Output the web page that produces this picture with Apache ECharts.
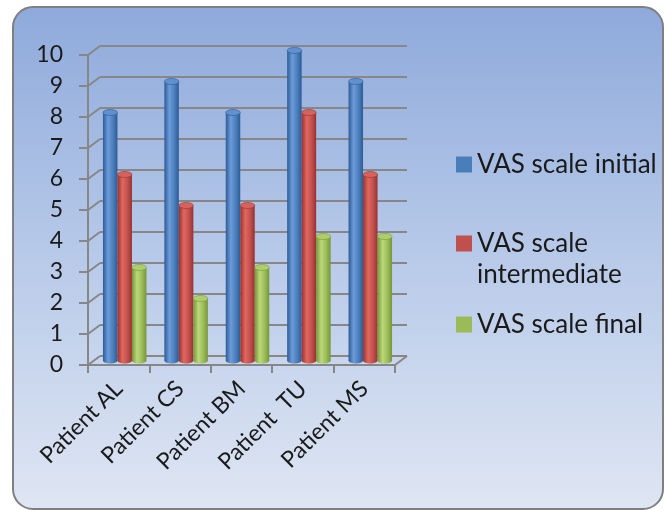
<!DOCTYPE html>
<html>
<head>
<meta charset="utf-8">
<script src="https://cdn.jsdelivr.net/npm/echarts@6/dist/echarts.min.js"></script>
<style>
  html, body { margin: 0; padding: 0; background: #ffffff; }
  #chart { width: 667px; height: 510px; }
</style>
</head>
<body>
<div id="chart"></div>
<script>
// Patient names along the category axis
const categories = ['Patient AL', 'Patient CS', 'Patient BM', 'Patient  TU', 'Patient MS'];

// VAS pain scores per patient
const vasInitial = [8, 9, 8, 10, 9];
const vasIntermediate = [6, 5, 5, 8, 6];
const vasFinal = [3, 2, 3, 4, 4];

// Value-axis ticks
const yTicks = [0, 1, 2, 3, 4, 5, 6, 7, 8, 9, 10];

const seriesNames = ['VAS scale initial', 'VAS scale intermediate', 'VAS scale final'];

const FONT = 'Lato';
const LINE = '#878787';
// depth offsets of the back wall and of the bar row relative to the front plane
const DEPTH_X = 12, DEPTH_Y = -9;
const MID_X = 6, MID_Y = -4.5;

const palettes = [
  { base: '#4a7ebb', dark: '#2d5b96', light: '#6c9bd9', cap: '#6090cf' },
  { base: '#c0504d', dark: '#963230', light: '#e2675f', cap: '#d5625e' },
  { base: '#9bbb59', dark: '#76953a', light: '#bcd979', cap: '#b0cd6c' }
];

function cylinder(idx) {
  const p = palettes[idx];
  return function (params, api) {
    const cat = api.value(0);
    const v = api.value(1);
    const base = api.coord([cat, 0]);
    const top = api.coord([cat, v]);
    const bw = 14.5;
    const x = base[0] + (idx - 1.5) * bw;
    const ry = 3;
    const body = new echarts.graphic.LinearGradient(0, 0, 1, 0, [
      { offset: 0, color: p.dark },
      { offset: 0.35, color: p.light },
      { offset: 0.7, color: p.base },
      { offset: 1, color: p.dark }
    ]);
    return {
      type: 'group',
      children: [
        { type: 'ellipse', shape: { cx: x + bw / 2, cy: base[1], rx: bw / 2, ry: ry }, style: { fill: body } },
        { type: 'rect', shape: { x: x, y: top[1], width: bw, height: base[1] - top[1] }, style: { fill: body } },
        { type: 'ellipse', shape: { cx: x + bw / 2, cy: top[1], rx: bw / 2, ry: ry },
          style: { fill: p.cap, stroke: p.dark, lineWidth: 0.6 } }
      ]
    };
  };
}

// short slanted edges joining the front axis to the back wall
function wallEdges(params, api) {
  const v = api.value(1);
  const cs = params.coordSys;
  const y = api.coord([0, v])[1];
  const children = [{
    type: 'line',
    shape: { x1: cs.x, y1: y, x2: cs.x + DEPTH_X, y2: y + DEPTH_Y },
    style: { stroke: LINE, lineWidth: 2 }
  }];
  if (v === 0) {
    children.push({
      type: 'line',
      shape: { x1: cs.x + cs.width, y1: y, x2: cs.x + cs.width + DEPTH_X, y2: y + DEPTH_Y },
      style: { stroke: LINE, lineWidth: 2 }
    });
  }
  return { type: 'group', children: children };
}

const frontLeft = 88, frontTop = 55, plotW = 307, plotH = 310;

const chart = echarts.init(document.getElementById('chart'), null, { renderer: 'canvas' });

const valueAxisBase = { type: 'value', min: 0, max: 10, interval: 1 };

const legendText = { fontFamily: FONT, fontSize: 26, color: '#1a1a1a', lineHeight: 31 };

const legendCommon = {
  orient: 'vertical',
  left: 456,
  itemWidth: 16,
  itemHeight: 16,
  itemGap: 0,
  padding: 0,
  icon: 'rect',
  selectedMode: false,
  textStyle: legendText
};

chart.setOption({
  backgroundColor: '#ffffff',
  animation: false,
  graphic: [{
    type: 'rect',
    z: -10,
    shape: { x: 13, y: 7, width: 650, height: 502, r: 20 },
    style: {
      fill: new echarts.graphic.LinearGradient(0, 0, 0, 1, [
        { offset: 0, color: '#8ea9db' },
        { offset: 0.5, color: '#b8cae9' },
        { offset: 1, color: '#dfe6f3' }
      ]),
      stroke: '#7f7f7f',
      lineWidth: 2
    }
  }],
  legend: [
    Object.assign({}, legendCommon, { data: [seriesNames[0]], top: 149 }),
    Object.assign({}, legendCommon, {
      // empty first line keeps the marker level with "VAS scale"
      data: [seriesNames[1]], top: 197,
      formatter: function () { return '\nVAS scale\nintermediate'; }
    }),
    Object.assign({}, legendCommon, { data: [seriesNames[2]], top: 309 })
  ],
  grid: [
    // front plane: axis lines, ticks and labels
    { left: frontLeft, top: frontTop, width: plotW, height: plotH },
    // back wall: horizontal gridlines
    { left: frontLeft + DEPTH_X, top: frontTop + DEPTH_Y, width: plotW, height: plotH },
    // bar row, halfway in depth
    { left: frontLeft + MID_X, top: frontTop + MID_Y, width: plotW, height: plotH }
  ],
  xAxis: [
    {
      gridIndex: 0, type: 'category', data: categories,
      axisLine: { show: true, lineStyle: { color: LINE, width: 2 } },
      axisTick: { show: true, length: 8, lineStyle: { color: LINE, width: 2 } },
      axisLabel: { interval: 0, rotate: 45, margin: 20, fontFamily: FONT, fontSize: 23, color: '#1a1a1a' }
    },
    { gridIndex: 1, type: 'category', data: categories, show: false },
    { gridIndex: 2, type: 'category', data: categories, show: false }
  ],
  yAxis: [
    Object.assign({}, valueAxisBase, {
      gridIndex: 0,
      axisLine: { show: true, lineStyle: { color: LINE, width: 2 } },
      axisTick: { show: true, length: 9, lineStyle: { color: LINE, width: 2 } },
      splitLine: { show: false },
      axisLabel: { margin: 25, fontFamily: FONT, fontSize: 23, color: '#1a1a1a' }
    }),
    Object.assign({}, valueAxisBase, {
      gridIndex: 1,
      axisLine: { show: false }, axisTick: { show: false }, axisLabel: { show: false },
      splitLine: { show: true, lineStyle: { color: LINE, width: 2 } }
    }),
    Object.assign({}, valueAxisBase, {
      gridIndex: 2, show: false, splitLine: { show: false }
    })
  ],
  series: [
    {
      type: 'custom', name: '_edges', xAxisIndex: 0, yAxisIndex: 0,
      renderItem: wallEdges, clip: false, silent: true, z: 1,
      data: yTicks.map(function (t) { return [0, t]; })
    },
    {
      type: 'custom', name: seriesNames[0], xAxisIndex: 2, yAxisIndex: 2, clip: false, z: 3,
      itemStyle: { color: palettes[0].base },
      renderItem: cylinder(0),
      data: vasInitial.map(function (v, i) { return [i, v]; })
    },
    {
      type: 'custom', name: seriesNames[1], xAxisIndex: 2, yAxisIndex: 2, clip: false, z: 3,
      itemStyle: { color: palettes[1].base },
      renderItem: cylinder(1),
      data: vasIntermediate.map(function (v, i) { return [i, v]; })
    },
    {
      type: 'custom', name: seriesNames[2], xAxisIndex: 2, yAxisIndex: 2, clip: false, z: 3,
      itemStyle: { color: palettes[2].base },
      renderItem: cylinder(2),
      data: vasFinal.map(function (v, i) { return [i, v]; })
    }
  ]
});
</script>
</body>
</html>
